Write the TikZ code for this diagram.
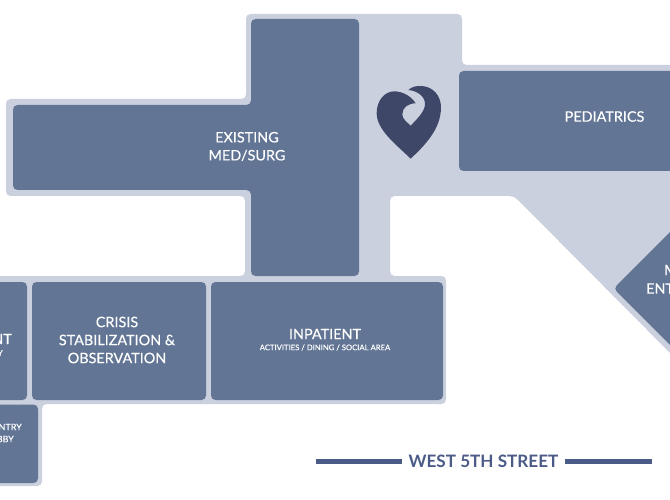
\documentclass[tikz,border=0pt]{standalone}
\usepackage{fontspec}
\setmainfont{Lato}
\newfontfamily\medfont[FakeBold=0.35]{Lato}
\definecolor{wing}{HTML}{CBD0DF}
\definecolor{room}{HTML}{627595}
\definecolor{logoc}{HTML}{3F4769}
\definecolor{street}{HTML}{4B5B87}
\tikzset{
  wingshape/.style={fill=wing,rounded corners=4.5pt},
  roomshape/.style={fill=room,rounded corners=4.5pt},
  biglabel/.style={text=white,font=\medfont\fontsize{14.4}{18}\selectfont,align=center,inner sep=0pt},
  smalllabel/.style={text=white,font=\medfont\fontsize{8}{12}\selectfont,align=center,inner sep=0pt},
  streetline/.style={draw=street,line width=4.5pt},
}
\begin{document}
\begin{tikzpicture}[x=1pt,y=-1pt]
\useasboundingbox (0,0) rectangle (670,500);
\clip (0,0) rectangle (670,500);
\fill[white] (0,0) rectangle (670,500);
% building outline
\fill[wingshape] (246,14) -- (462,14) -- (462,65) -- (690,65) -- (690,373) -- (514,196)
  -- (390,196) -- (390,276) -- (446,276) -- (446,404) -- (42,404) -- (42,486) -- (-20,486)
  -- (-20,276) -- (245,276) -- (245,196) -- (6,196) -- (6,99) -- (246,99) -- cycle;
% rooms
\fill[roomshape] (251,19) -- (359,19) -- (359,276) -- (251,276) -- (251,190) -- (13,190)
  -- (13,105) -- (251,105) -- cycle;
\fill[roomshape] (459,71) rectangle (690,171);
\fill[roomshape] (613.5,288.5) -- (690,212) -- (690,365) -- cycle;
\fill[roomshape] (-20,282) rectangle (27,400);
\fill[roomshape] (32,282) rectangle (206,400);
\fill[roomshape] (211,282) rectangle (443,400);
\fill[roomshape] (-20,404.5) rectangle (38,483);
% logo
\begin{scope}[shift={(370,80)},x=0.3333pt,y=-0.3333pt]
\fill[logoc] (122,236) .. controls (80,195) and (20,150) .. (20,100)
  .. controls (20,60) and (45,33) .. (75,34)
  .. controls (100,35) and (125,50) .. (137,70)
  .. controls (115,70) and (97,82) .. (97,103)
  .. controls (97,118) and (112,127) .. (122,137)
  .. controls (140,118) and (165,95) .. (165,72)
  .. controls (165,48) and (140,32) .. (115,30)
  .. controls (125,20) and (140,17) .. (155,18)
  .. controls (190,20) and (213,48) .. (213,82)
  .. controls (213,150) and (160,200) .. (122,236) -- cycle;
\end{scope}
% labels
\node[biglabel] (existing) at (247,146.5) {EXISTING\\MED/SURG};
\node[biglabel] (peds) at (604.5,116.5) {PEDIATRICS};
\node[biglabel] (crisis) at (117,340) {CRISIS\\STABILIZATION \&\\OBSERVATION};
\node[biglabel] (inpatient) at (325,334) {INPATIENT};
\node[smalllabel,font=\medfont\fontsize{7.7}{9}\selectfont] (activities) at (325,347.5) {ACTIVITIES / DINING / SOCIAL AREA};
\node[biglabel,anchor=east] (frag) at (12,339) {NT};
\node[smalllabel,anchor=east] (fragsmall) at (3,353) {Y};
\node[smalllabel,font=\medfont\fontsize{9}{12}\selectfont,anchor=east] (entrya) at (22,427) {NTRY};
\node[smalllabel,font=\medfont\fontsize{9}{12}\selectfont,anchor=east] (entryb) at (14,439) {BBY};
\node[biglabel,anchor=west] (maina) at (664,270) {M};
\node[biglabel,anchor=west] (mainb) at (646,288.5) {ENT};
% street
\node[inner sep=0pt,text=street,font=\bfseries\fontsize{17.1}{20}\selectfont] (street) at (483.5,461.5) {WEST 5TH STREET};
\coordinate (sl) at (316,461.5);
\coordinate (sr) at (652,461.5);
\coordinate (sla) at (402,461.5);
\coordinate (sra) at (565,461.5);
\draw[streetline] (sl) -- (sla);
\draw[streetline] (sra) -- (sr);
\end{tikzpicture}
\end{document}
